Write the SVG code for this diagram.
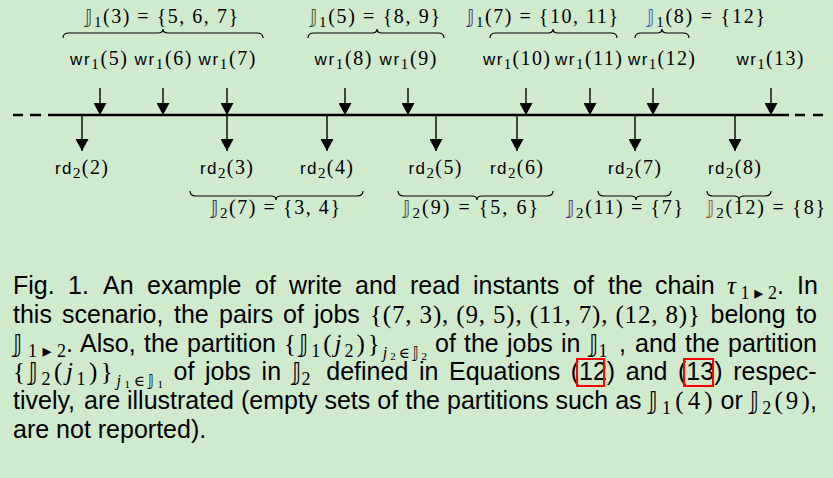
<svg xmlns="http://www.w3.org/2000/svg" width="833" height="478" viewBox="0 0 833 478">
<style>
.sf{font-family:"Liberation Sans",Arial,sans-serif;}
.m{font-family:"Liberation Serif","DejaVu Serif","DejaVu Sans",serif;}
.bb{font-family:"DejaVu Sans","DejaVu Serif",sans-serif;}
.lbl{font-size:20px;fill:#000;}
.op{font-size:17px;}
.sub{font-size:15px;}
.brace{fill:none;stroke:#000;stroke-width:1.2;}
.arr{stroke:#000;stroke-width:1.4;fill:none;marker-end:url(#ah);}
.axis{stroke:#000;stroke-width:2.4;fill:none;}
.cap{font-family:"Liberation Sans",Arial,sans-serif;font-size:25px;fill:#000;}
.cm{font-family:"Liberation Serif","DejaVu Serif","DejaVu Sans",serif;font-size:25px;fill:#000;}
.cs{font-size:18px;}
.it{font-style:italic;}
.link{fill:none;stroke:#ff0000;stroke-width:2;}
</style>
<defs>
<marker id="ah" markerUnits="userSpaceOnUse" markerWidth="13" markerHeight="13" refX="12" refY="6.5" orient="auto">
<path d="M0,0 L12,6.5 L0,13 Z" fill="#000"/>
</marker>
</defs>
<rect width="833" height="478" fill="#d0eace"/>

<g id="connectors">
<path class="axis" d="M55,115 L789,115"/>
<path class="axis" d="M13,115 L23,115 M30,115 L41,115 M48,115 L55,115 M795,115 L805,115 M813,115 L823,115"/>
<path class="arr" d="M100,88 L100,115"/>
<path class="arr" d="M163,88 L163,115"/>
<path class="arr" d="M227,88 L227,115"/>
<path class="arr" d="M345,88 L345,115"/>
<path class="arr" d="M408,88 L408,115"/>
<path class="arr" d="M526,88 L526,115"/>
<path class="arr" d="M590,88 L590,115"/>
<path class="arr" d="M653,88 L653,115"/>
<path class="arr" d="M771,88 L771,115"/>
<path class="arr" d="M82,115 L82,151"/>
<path class="arr" d="M227,115 L227,151"/>
<path class="arr" d="M327,115 L327,151"/>
<path class="arr" d="M436,115 L436,151"/>
<path class="arr" d="M517,115 L517,151"/>
<path class="arr" d="M635,115 L635,151"/>
<path class="arr" d="M735,115 L735,151"/>
</g>

<g id="write-labels" class="lbl">
<text id="wr5" x="98.5" y="65" text-anchor="middle" textLength="57" lengthAdjust="spacing"><tspan class="sf op">wr</tspan><tspan class="m sub" dy="4">1</tspan><tspan class="m" dy="-4">(5)</tspan></text>
<text id="wr6" x="163" y="65" text-anchor="middle" textLength="57" lengthAdjust="spacing"><tspan class="sf op">wr</tspan><tspan class="m sub" dy="4">1</tspan><tspan class="m" dy="-4">(6)</tspan></text>
<text id="wr7" x="227" y="65" text-anchor="middle" textLength="57" lengthAdjust="spacing"><tspan class="sf op">wr</tspan><tspan class="m sub" dy="4">1</tspan><tspan class="m" dy="-4">(7)</tspan></text>
<text id="wr8" x="343" y="65" text-anchor="middle" textLength="57" lengthAdjust="spacing"><tspan class="sf op">wr</tspan><tspan class="m sub" dy="4">1</tspan><tspan class="m" dy="-4">(8)</tspan></text>
<text id="wr9" x="408" y="65" text-anchor="middle" textLength="57" lengthAdjust="spacing"><tspan class="sf op">wr</tspan><tspan class="m sub" dy="4">1</tspan><tspan class="m" dy="-4">(9)</tspan></text>
<text id="wr10" x="516.5" y="65" text-anchor="middle" textLength="67" lengthAdjust="spacing"><tspan class="sf op">wr</tspan><tspan class="m sub" dy="4">1</tspan><tspan class="m" dy="-4">(10)</tspan></text>
<text id="wr11" x="588.5" y="65" text-anchor="middle" textLength="67" lengthAdjust="spacing"><tspan class="sf op">wr</tspan><tspan class="m sub" dy="4">1</tspan><tspan class="m" dy="-4">(11)</tspan></text>
<text id="wr12" x="661.5" y="65" text-anchor="middle" textLength="67" lengthAdjust="spacing"><tspan class="sf op">wr</tspan><tspan class="m sub" dy="4">1</tspan><tspan class="m" dy="-4">(12)</tspan></text>
<text id="wr13" x="770" y="65" text-anchor="middle" textLength="67" lengthAdjust="spacing"><tspan class="sf op">wr</tspan><tspan class="m sub" dy="4">1</tspan><tspan class="m" dy="-4">(13)</tspan></text>
</g>

<g id="read-labels" class="lbl">
<text id="rd2" x="81.5" y="174" text-anchor="middle" textLength="53" lengthAdjust="spacing"><tspan class="sf op">rd</tspan><tspan class="m sub" dy="4">2</tspan><tspan class="m" dy="-4">(2)</tspan></text>
<text id="rd3" x="226.5" y="174" text-anchor="middle" textLength="53" lengthAdjust="spacing"><tspan class="sf op">rd</tspan><tspan class="m sub" dy="4">2</tspan><tspan class="m" dy="-4">(3)</tspan></text>
<text id="rd4" x="326.5" y="174" text-anchor="middle" textLength="53" lengthAdjust="spacing"><tspan class="sf op">rd</tspan><tspan class="m sub" dy="4">2</tspan><tspan class="m" dy="-4">(4)</tspan></text>
<text id="rd5" x="435" y="174" text-anchor="middle" textLength="53" lengthAdjust="spacing"><tspan class="sf op">rd</tspan><tspan class="m sub" dy="4">2</tspan><tspan class="m" dy="-4">(5)</tspan></text>
<text id="rd6" x="516.5" y="174" text-anchor="middle" textLength="53" lengthAdjust="spacing"><tspan class="sf op">rd</tspan><tspan class="m sub" dy="4">2</tspan><tspan class="m" dy="-4">(6)</tspan></text>
<text id="rd7" x="634.5" y="174" text-anchor="middle" textLength="53" lengthAdjust="spacing"><tspan class="sf op">rd</tspan><tspan class="m sub" dy="4">2</tspan><tspan class="m" dy="-4">(7)</tspan></text>
<text id="rd8" x="734.5" y="174" text-anchor="middle" textLength="53" lengthAdjust="spacing"><tspan class="sf op">rd</tspan><tspan class="m sub" dy="4">2</tspan><tspan class="m" dy="-4">(8)</tspan></text>
</g>

<g id="set-J1-3">
<path class="brace" d="M63,38 Q63,33 69,33 L158,33 Q163,33 163,29 Q163,33 168,33 L257,33 Q263,33 263,38"/>
<text class="lbl" x="161.5" y="23" text-anchor="middle" textLength="153" lengthAdjust="spacing"><tspan class="bb" font-size="19" fill="#3d4a1c">&#x1D541;</tspan><tspan class="m sub" dy="4">1</tspan><tspan class="m" dy="-4">(3) = {5, 6, 7}</tspan></text>
</g>
<g id="set-J1-5">
<path class="brace" d="M308,38 Q308,33 314,33 L372,33 Q377,33 377,29 Q377,33 382,33 L438,33 Q444,33 444,38"/>
<text class="lbl" x="375" y="23" text-anchor="middle" textLength="130" lengthAdjust="spacing"><tspan class="bb" font-size="19" fill="#3a5a1e">&#x1D541;</tspan><tspan class="m sub" dy="4">1</tspan><tspan class="m" dy="-4">(5) = {8, 9}</tspan></text>
</g>
<g id="set-J1-7">
<path class="brace" d="M490,38 Q490,33 496,33 L548,33 Q553,33 553,29 Q553,33 558,33 L611,33 Q617,33 617,38"/>
<text class="lbl" x="542.5" y="23" text-anchor="middle" textLength="151" lengthAdjust="spacing"><tspan class="bb" font-size="19" fill="#5a2a8a">&#x1D541;</tspan><tspan class="m sub" dy="4">1</tspan><tspan class="m" dy="-4">(7) = {10, 11}</tspan></text>
</g>
<g id="set-J1-8">
<path class="brace" d="M635,38 Q635,33 641,33 L657,33 Q662,33 662,29 Q662,33 667,33 L683,33 Q689,33 689,38"/>
<text class="lbl" x="706" y="23" text-anchor="middle" textLength="118" lengthAdjust="spacing"><tspan class="bb" font-size="19" fill="#3565c0">&#x1D541;</tspan><tspan class="m sub" dy="4">1</tspan><tspan class="m" dy="-4">(8) = {12}</tspan></text>
</g>

<g id="set-J2-7">
<path class="brace" d="M190,191 Q190,196 196,196 L271,196 Q276,196 276,200 Q276,196 281,196 L357,196 Q363,196 363,191"/>
<text class="lbl" x="275.5" y="214" text-anchor="middle" textLength="129" lengthAdjust="spacing"><tspan class="bb" font-size="19" fill="#303040">&#x1D541;</tspan><tspan class="m sub" dy="4">2</tspan><tspan class="m" dy="-4">(7) = {3, 4}</tspan></text>
</g>
<g id="set-J2-9">
<path class="brace" d="M398,191 Q398,196 404,196 L472,196 Q477,196 477,200 Q477,196 482,196 L547,196 Q553,196 553,191"/>
<text class="lbl" x="470.5" y="214" text-anchor="middle" textLength="135" lengthAdjust="spacing"><tspan class="bb" font-size="19" fill="#2e5a2e">&#x1D541;</tspan><tspan class="m sub" dy="4">2</tspan><tspan class="m" dy="-4">(9) = {5, 6}</tspan></text>
</g>
<g id="set-J2-11">
<path class="brace" d="M598,191 Q598,196 604,196 L631,196 Q636,196 636,200 Q636,196 641,196 L665,196 Q671,196 671,191"/>
<text class="lbl" x="625" y="214" text-anchor="middle" textLength="116" lengthAdjust="spacing"><tspan class="bb" font-size="19" fill="#5a2a80">&#x1D541;</tspan><tspan class="m sub" dy="4">2</tspan><tspan class="m" dy="-4">(11) = {7}</tspan></text>
</g>
<g id="set-J2-12">
<path class="brace" d="M707,191 Q707,196 713,196 L734,196 Q739,196 739,200 Q739,196 744,196 L765,196 Q771,196 771,191"/>
<text class="lbl" x="766" y="214" text-anchor="middle" textLength="118" lengthAdjust="spacing"><tspan class="bb" font-size="19" fill="#9a6020">&#x1D541;</tspan><tspan class="m sub" dy="4">2</tspan><tspan class="m" dy="-4">(12) = {8}</tspan></text>
</g>

<g id="caption">
<text class="cap" y="294"><tspan x="13">Fig.</tspan><tspan x="68">1.</tspan><tspan x="103">An</tspan><tspan x="147">example</tspan><tspan x="255">of</tspan><tspan x="289">write</tspan><tspan x="355">and</tspan><tspan x="410">read</tspan><tspan x="473">instants</tspan><tspan x="573">of</tspan><tspan x="608">the</tspan><tspan x="655">chain</tspan><tspan x="777">.</tspan><tspan x="797">In</tspan></text>
<text class="cm" x="727" y="294" textLength="50" lengthAdjust="spacing"><tspan class="it">τ</tspan><tspan class="cs" dy="5">1▸2</tspan></text>

<text class="cap" y="323"><tspan x="13">this</tspan><tspan x="62">scenario,</tspan><tspan x="174">the</tspan><tspan x="219">pairs</tspan><tspan x="283">of</tspan><tspan x="314">jobs</tspan><tspan x="710.5">belong</tspan><tspan x="796">to</tspan></text>
<text class="cm" x="370" y="323" textLength="330" lengthAdjust="spacing">{(7, 3), (9, 5), (11, 7), (12, 8)}</text>

<text class="cm" x="13" y="352" textLength="53" lengthAdjust="spacing"><tspan class="bb" font-size="24">&#x1D541;</tspan><tspan class="cs" dy="5">1▸2</tspan></text>
<text class="cap" y="352"><tspan x="66">.</tspan><tspan x="80">Also,</tspan><tspan x="144">the</tspan><tspan x="187">partition</tspan><tspan x="435">of</tspan><tspan x="464">the</tspan><tspan x="507">jobs</tspan><tspan x="561">in</tspan><tspan x="619">,</tspan><tspan x="635">and</tspan><tspan x="685">the</tspan><tspan x="728">partition</tspan></text>
<text class="cm" x="284" y="352" textLength="143" lengthAdjust="spacing">{<tspan class="bb" font-size="24">&#x1D541;</tspan><tspan class="cs" dy="5">1</tspan><tspan dy="-5">(</tspan><tspan class="it">j</tspan><tspan class="cs" dy="5">2</tspan><tspan dy="-5">)}</tspan><tspan class="it" font-size="16" dy="6">j</tspan><tspan font-size="11" dy="2">2</tspan><tspan font-size="15" dy="-2">∈</tspan><tspan class="bb" font-size="15">&#x1D541;</tspan><tspan font-size="11" dy="2">2</tspan></text>
<text class="cm" x="589" y="352"><tspan class="bb" font-size="24">&#x1D541;</tspan><tspan class="cs" dy="5">1</tspan></text>

<text class="cm" x="13" y="380" textLength="150" lengthAdjust="spacing">{<tspan class="bb" font-size="24">&#x1D541;</tspan><tspan class="cs" dy="5">2</tspan><tspan dy="-5">(</tspan><tspan class="it">j</tspan><tspan class="cs" dy="5">1</tspan><tspan dy="-5">)}</tspan><tspan class="it" font-size="16" dy="6">j</tspan><tspan font-size="11" dy="2">1</tspan><tspan font-size="15" dy="-2">∈</tspan><tspan class="bb" font-size="15">&#x1D541;</tspan><tspan font-size="11" dy="2">1</tspan></text>
<text class="cap" y="380"><tspan x="173.6">of</tspan><tspan x="205">jobs</tspan><tspan x="261.6">in</tspan><tspan x="326.3">defined</tspan><tspan x="419">in</tspan><tspan x="449">Equations</tspan><tspan x="570.7">(12)</tspan><tspan x="625.8">and</tspan><tspan x="678">(13)</tspan><tspan x="733.2">respec-</tspan></text>
<text class="cm" x="292" y="380"><tspan class="bb" font-size="24">&#x1D541;</tspan><tspan class="cs" dy="5">2</tspan></text>
<rect class="link" x="577" y="359" width="27" height="27"/>
<rect class="link" x="684" y="359" width="29" height="27"/>

<text class="cap" y="409"><tspan x="13">tively,</tspan><tspan x="84">are</tspan><tspan x="127">illustrated</tspan><tspan x="241">(empty</tspan><tspan x="324.4">sets</tspan><tspan x="377.3">of</tspan><tspan x="405.2">the</tspan><tspan x="447">partitions</tspan><tspan x="555.4">such</tspan><tspan x="615.2">as</tspan><tspan x="720.6">or</tspan><tspan x="810">,</tspan></text>
<text class="cm" x="648.6" y="409" textLength="64" lengthAdjust="spacing"><tspan class="bb" font-size="24">&#x1D541;</tspan><tspan class="cs" dy="5">1</tspan><tspan dy="-5">(4)</tspan></text>
<text class="cm" x="749.8" y="409" textLength="60" lengthAdjust="spacing"><tspan class="bb" font-size="24">&#x1D541;</tspan><tspan class="cs" dy="5">2</tspan><tspan dy="-5">(9)</tspan></text>

<text class="cap" x="13" y="438">are not reported).</text>
</g>
</svg>
